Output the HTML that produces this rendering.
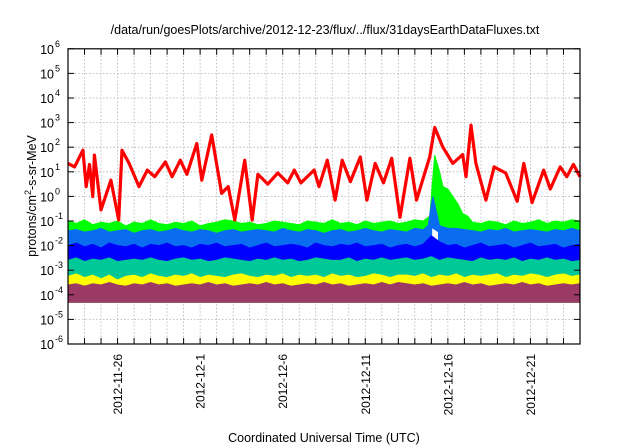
<!DOCTYPE html>
<html><head><meta charset="utf-8"><style>
html,body{margin:0;padding:0;background:#fff}
svg{display:block;font-family:"Liberation Sans",sans-serif}
</style></head><body>
<svg id="chart" width="640" height="448" viewBox="0 0 640 448" xmlns="http://www.w3.org/2000/svg">
<text x="325" y="34" font-size="12.5" text-anchor="middle">/data/run/goesPlots/archive/2012-12-23/flux/../flux/31daysEarthDataFluxes.txt</text>
<text x="324" y="442" font-size="12.5" text-anchor="middle">Coordinated Universal Time (UTC)</text>
<text transform="translate(36,196) rotate(-90)" font-size="12.5" text-anchor="middle">protons/cm<tspan dy="-5" font-size="9">2</tspan><tspan dy="5">-s-sr-MeV</tspan></text>
<g id="grid"></g><g id="marks"></g><g id="axes"></g>
</svg>
<script>
const xTickDays=[3,8,13,18,23,28];
const xTickLabels=["2012-11-26","2012-12-1","2012-12-6","2012-12-11","2012-12-16","2012-12-21"];
const yTickExps=[-6,-5,-4,-3,-2,-1,0,1,2,3,4,5,6];
const redDays=[0,0.4,0.9,1.1,1.3,1.5,1.6,2.0,2.6,3.07,3.27,3.7,4.3,4.8,5.25,5.9,6.3,6.8,7.2,7.8,8.1,8.7,9.3,9.7,10.1,10.7,11.15,11.5,12.1,12.7,13.3,13.7,14.1,14.9,15.2,15.7,16.17,16.6,17.1,17.7,18.1,18.6,19.1,19.6,20.1,20.7,21.1,21.9,22.2,22.7,23.3,23.9,24.1,24.4,24.7,25.3,25.8,26.5,27.2,27.6,28.1,28.8,29.2,29.8,30.2,30.6,31];
const redLog=[1.34,1.2,1.88,0.4,1.3,-0.01,1.68,-0.55,0.66,-0.96,1.88,1.34,0.4,1.07,0.8,1.4,0.8,1.47,0.9,2.15,0.66,2.5,0.12,0.4,-0.96,1.47,-0.96,0.9,0.5,0.95,0.55,1.07,0.55,1.07,0.4,1.47,-0.15,1.47,0.6,1.6,-0.15,1.34,0.55,1.55,-0.85,1.55,-0.15,1.6,2.8,2.0,1.34,1.7,0.8,2.9,1.34,-0.15,1.2,0.95,-0.2,1.34,-0.25,1.07,0.3,1.2,0.8,1.3,0.8];
const greenDays=[0,0.5,1,1.5,2,2.5,3,3.5,4,4.5,5,5.5,6,6.5,7,7.5,8,8.5,9,9.5,10,10.5,11,11.5,12,12.5,13,13.5,14,14.5,15,15.5,16,16.5,17,17.5,18,18.5,19,19.5,20,20.5,21,21.5,21.9,22.2,22.5,22.7,23.0,23.3,23.6,23.9,24.2,24.5,25,25.5,26,26.5,27,27.5,28,28.5,29,29.5,30,30.5,31];
const greenLog=[-1.0,-1.1,-0.95,-1.15,-1.05,-1.1,-1.0,-1.2,-1.05,-1.1,-0.95,-1.1,-1.15,-1.05,-1.1,-1.0,-1.2,-1.1,-1.05,-0.95,-1.0,-1.1,-1.05,-1.15,-1.1,-1.0,-1.05,-1.1,-1.15,-1.0,-1.05,-1.1,-0.95,-1.1,-1.05,-1.15,-1.0,-1.1,-1.05,-1.0,-1.1,-1.05,-0.95,-1.0,-0.8,1.68,1.0,0.4,0.3,0.0,-0.3,-0.7,-0.8,-1.05,-1.1,-1.0,-1.05,-1.15,-1.0,-1.1,-1.05,-0.95,-1.1,-1.0,-1.05,-0.95,-1.0];
const lbDays=[0,0.5,1,1.5,2,2.5,3,3.5,4,4.5,5,5.5,6,6.5,7,7.5,8,8.5,9,9.5,10,10.5,11,11.5,12,12.5,13,13.5,14,14.5,15,15.5,16,16.5,17,17.5,18,18.5,19,19.5,20,20.5,21,21.5,21.8,22.0,22.1,22.3,22.5,23.0,23.5,24.0,24.5,25,25.5,26,26.5,27,27.5,28,28.5,29,29.5,30,30.5,31];
const lbLog=[-1.4,-1.35,-1.45,-1.4,-1.3,-1.45,-1.4,-1.35,-1.5,-1.4,-1.35,-1.45,-1.4,-1.3,-1.4,-1.45,-1.35,-1.4,-1.5,-1.4,-1.35,-1.45,-1.4,-1.35,-1.4,-1.45,-1.3,-1.4,-1.45,-1.35,-1.4,-1.5,-1.4,-1.35,-1.45,-1.4,-1.3,-1.4,-1.45,-1.35,-1.4,-1.45,-1.3,-1.35,-1.2,-0.3,0.0,-0.6,-1.2,-1.3,-1.3,-1.35,-1.4,-1.45,-1.35,-1.4,-1.3,-1.45,-1.4,-1.35,-1.4,-1.45,-1.35,-1.4,-1.3,-1.4];
const darkLog=[-2.0,-1.9,-2.05,-1.95,-2.1,-1.9,-2.0,-2.05,-1.95,-2.1,-1.95,-2.0,-1.9,-2.05,-2.0,-2.1,-1.95,-2.0,-1.9,-2.05,-2.0,-1.95,-2.1,-2.0,-1.9,-2.05,-2.0,-1.95,-2.0,-2.1,-1.9,-2.0,-2.05,-1.95,-2.0,-1.9,-2.05,-2.0,-1.95,-2.1,-2.0,-1.95,-2.05,-1.95,-1.6,-1.85,-2.0,-1.95,-2.1,-2.0,-1.9,-2.05,-2.0,-1.95,-2.1,-2.0,-1.9,-2.05,-2.0,-1.95,-2.1,-2.0,-1.95];
const tealLog=[-2.6,-2.5,-2.65,-2.55,-2.6,-2.5,-2.65,-2.6,-2.55,-2.6,-2.5,-2.6,-2.65,-2.55,-2.5,-2.6,-2.55,-2.65,-2.6,-2.5,-2.55,-2.6,-2.65,-2.55,-2.6,-2.5,-2.6,-2.55,-2.65,-2.6,-2.5,-2.55,-2.6,-2.6,-2.5,-2.65,-2.55,-2.6,-2.5,-2.6,-2.55,-2.5,-2.6,-2.55,-2.45,-2.6,-2.5,-2.55,-2.6,-2.65,-2.5,-2.6,-2.55,-2.6,-2.5,-2.65,-2.55,-2.6,-2.5,-2.6,-2.55,-2.65,-2.6];
const yellowLog=[-3.25,-3.15,-3.3,-3.2,-3.35,-3.2,-3.4,-3.25,-3.2,-3.3,-3.15,-3.25,-3.3,-3.2,-3.25,-3.15,-3.3,-3.2,-3.25,-3.3,-3.2,-3.15,-3.25,-3.3,-3.2,-3.25,-3.15,-3.3,-3.2,-3.25,-3.2,-3.3,-3.15,-3.25,-3.2,-3.3,-3.25,-3.15,-3.2,-3.3,-3.2,-3.2,-3.25,-3.15,-3.3,-3.2,-3.25,-3.15,-3.3,-3.2,-3.25,-3.2,-3.15,-3.3,-3.2,-3.25,-3.15,-3.2,-3.3,-3.2,-3.15,-3.25,-3.2];
const maroonLog=[-3.6,-3.55,-3.65,-3.55,-3.6,-3.5,-3.6,-3.65,-3.55,-3.6,-3.5,-3.6,-3.55,-3.65,-3.6,-3.55,-3.6,-3.5,-3.6,-3.55,-3.65,-3.6,-3.55,-3.6,-3.5,-3.6,-3.55,-3.65,-3.6,-3.55,-3.6,-3.5,-3.6,-3.55,-3.65,-3.6,-3.55,-3.6,-3.5,-3.6,-3.5,-3.55,-3.6,-3.55,-3.65,-3.6,-3.55,-3.6,-3.5,-3.6,-3.55,-3.65,-3.6,-3.55,-3.6,-3.5,-3.6,-3.55,-3.65,-3.6,-3.55,-3.6,-3.55];
const bandFloorLog=-4.3;

const L=68,R=580,T=48.8,B=344,D0=0,D1=31,E0=-6,E1=6;
const NS="http://www.w3.org/2000/svg";
function x(d){return L+(d-D0)/(D1-D0)*(R-L);}
function y(e){return B-(e-E0)/(E1-E0)*(B-T);}
function mk(tag,attrs,parent){const el=document.createElementNS(NS,tag);for(const k in attrs)el.setAttribute(k,attrs[k]);parent.appendChild(el);return el;}
const grid=document.getElementById('grid'),marks=document.getElementById('marks'),axes=document.getElementById('axes');

for(let d=1;d<31;d++){
  const g=mk('line',{x1:x(d),x2:x(d),y1:T,y2:B,stroke:'#b0b0b0','stroke-width':0.8,'stroke-dasharray':'1.5,2'},grid);
  
  
}
yTickExps.forEach(e=>{
  if(e>E0&&e<E1){
    const g=mk('line',{x1:L,x2:R,y1:y(e),y2:y(e),stroke:'#b0b0b0','stroke-width':0.8,'stroke-dasharray':'1.5,2'},grid);
    
    
  }
});

function area(days,logs,color,name){
  let p=days.map((d,i)=>x(d).toFixed(1)+','+y(logs[i]).toFixed(1));
  p.push(x(days[days.length-1]).toFixed(1)+','+y(bandFloorLog).toFixed(1));
  p.push(x(days[0]).toFixed(1)+','+y(bandFloorLog).toFixed(1));
  const el=mk('polygon',{points:p.join(' '),fill:color,stroke:color,'stroke-width':1},marks);
  
  
}
const uDays=darkLog.map((_,i)=>i*0.5);
area(greenDays,greenLog,'#00ff00','green-flux-band');
area(lbDays,lbLog,'#0a6cf0','lightblue-flux-band');
const gap=mk('polygon',{points:[x(22.05)+','+y(-1.3),x(22.4)+','+y(-1.45),x(22.4)+','+y(-2.2),x(22.05)+','+y(-2.2)].join(' '),fill:'#ffffff'},marks);


area(uDays,darkLog,'#0000ff','darkblue-flux-band');
area(uDays,tealLog,'#00c896','teal-flux-band');
area(uDays,yellowLog,'#ffff00','yellow-flux-band');
area(uDays,maroonLog,'#9b3a64','maroon-flux-band');
const red=mk('polyline',{points:redDays.map((d,i)=>x(d).toFixed(1)+','+y(redLog[i]).toFixed(1)).join(' '),fill:'none',stroke:'#ff0000','stroke-width':3.2,'stroke-linejoin':'round'},marks);



const frame=mk('rect',{x:L,y:T,width:R-L,height:B-T,fill:'none',stroke:'#000','stroke-width':1.2},axes);


for(let d=1;d<31;d++){
  const t1=mk('line',{x1:x(d),x2:x(d),y1:B,y2:B-6,stroke:'#000','stroke-width':1},axes);
  
  
  const t2=mk('line',{x1:x(d),x2:x(d),y1:T,y2:T+6,stroke:'#000','stroke-width':1},axes);
  
  
}
xTickDays.forEach((d,i)=>{
  const t=mk('text',{transform:`translate(${x(d)+4.5},354) rotate(-90)`,'font-size':12,'text-anchor':'end'},axes);
  t.textContent=xTickLabels[i];
  
  
});
yTickExps.forEach(e=>{
  const t1=mk('line',{x1:L,x2:L+6,y1:y(e),y2:y(e),stroke:'#000','stroke-width':1},axes);
  
  
  const t2=mk('line',{x1:R,x2:R-6,y1:y(e),y2:y(e),stroke:'#000','stroke-width':1},axes);
  
  
  const t=mk('text',{x:54,y:y(e)+5,'font-size':12.5,'text-anchor':'end'},axes);
  t.textContent='10';
  
  
  const s=mk('text',{x:55,y:y(e)-2,'font-size':9},axes);
  s.textContent=String(e);
  
  
});
</script>
</body></html>
